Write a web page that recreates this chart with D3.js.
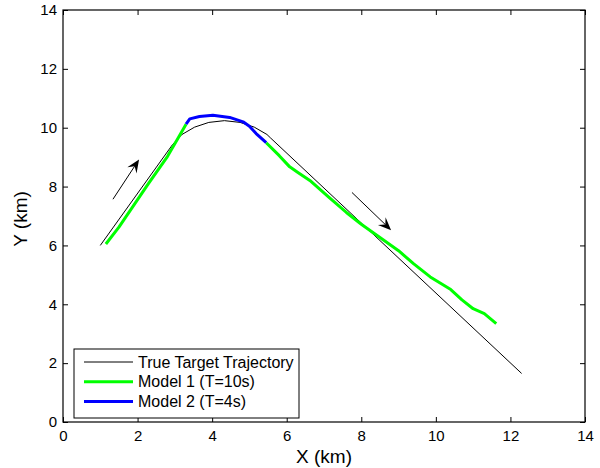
<!DOCTYPE html>
<html>
<head>
<meta charset="utf-8">
<script src="https://cdn.jsdelivr.net/npm/d3@7"></script>
<style>
  body { margin: 0; background: #fff; }
  svg { display: block; font-family: "Liberation Sans", Arial, sans-serif; }
</style>
</head>
<body>
<svg id="chart" width="600" height="468"></svg>
<script>
// data (km)
const trueTrack = [
  [1.0, 6.0], [2.94, 9.43], [3.19, 9.77], [3.53, 10.02], [3.91, 10.18],
  [4.33, 10.24], [4.75, 10.18], [5.13, 10.02], [5.47, 9.77], [5.56, 9.66],
  [12.3, 1.65]
];
const model1a = [
  [1.15, 6.05], [1.5, 6.62], [1.8, 7.18], [2.3, 8.12], [2.8, 9.02],
  [3.1, 9.68], [3.3, 10.12]
];
const model2 = [
  [3.3, 10.12], [3.4, 10.3], [3.66, 10.38], [4.02, 10.42], [4.47, 10.35],
  [4.83, 10.2], [5.0, 10.05], [5.18, 9.8], [5.45, 9.49]
];
const model1b = [
  [5.45, 9.49], [5.8, 9.05], [6.08, 8.67], [6.3, 8.48], [6.65, 8.18],
  [7.15, 7.62], [7.6, 7.12], [8.0, 6.72], [8.5, 6.27], [9.0, 5.82],
  [9.4, 5.38], [9.85, 4.93], [10.4, 4.5], [10.7, 4.15], [11.0, 3.85],
  [11.3, 3.68], [11.62, 3.34]
];
const arrows = [
  { from: [1.34, 7.57], to: [2.04, 8.92] },
  { from: [7.75, 7.8], to: [8.8, 6.52] }
];
const xTicks = [0, 2, 4, 6, 8, 10, 12, 14];
const yTicks = [0, 2, 4, 6, 8, 10, 12, 14];
const legendItems = [
  { label: 'True Target Trajectory', color: '#000', width: 1 },
  { label: 'Model 1 (T=10s)', color: '#00ff00', width: 3 },
  { label: 'Model 2 (T=4s)', color: '#0000ff', width: 3 }
];

const svg = d3.select('#chart');
const margin = { top: 10, right: 15, bottom: 46, left: 63 };
const width = 600 - margin.left - margin.right;
const height = 468 - margin.top - margin.bottom;
const g = svg.append('g').attr('transform', `translate(${margin.left},${margin.top})`);

const x = d3.scaleLinear().domain([0, 14]).range([0, width]);
const y = d3.scaleLinear().domain([0, 14]).range([height, 0]);

// axes, ticks inward
const styleAxis = sel => {
  sel.select('.domain').remove();
  sel.selectAll('.tick line').attr('stroke', '#000');
  sel.selectAll('text').attr('font-size', 15).attr('fill', '#000')
    .attr('font-family', '"Liberation Sans", Arial, sans-serif');
};
g.append('g').attr('transform', `translate(0,${height})`)
  .call(d3.axisBottom(x).tickValues(xTicks).tickSize(-5).tickPadding(8))
  .call(styleAxis);
g.append('g')
  .call(d3.axisLeft(y).tickValues(yTicks).tickSize(-5).tickPadding(6))
  .call(styleAxis);
g.append('g')
  .call(d3.axisTop(x).tickValues(xTicks).tickSize(-5).tickFormat(''))
  .call(styleAxis);
g.append('g').attr('transform', `translate(${width},0)`)
  .call(d3.axisRight(y).tickValues(yTicks).tickSize(-5).tickFormat(''))
  .call(styleAxis);

g.append('rect')
  .attr('width', width).attr('height', height)
  .attr('fill', 'none').attr('stroke', '#000').attr('stroke-width', 1.2);

// lines
const line = d3.line().x(d => x(d[0])).y(d => y(d[1]));
g.append('path').datum(trueTrack).attr('d', line)
  .attr('fill', 'none').attr('stroke', '#000').attr('stroke-width', 1);
[model1a, model1b].forEach(s => {
  g.append('path').datum(s).attr('d', line)
    .attr('fill', 'none').attr('stroke', '#00ff00').attr('stroke-width', 3)
    .attr('stroke-linejoin', 'round');
});
g.append('path').datum(model2).attr('d', line)
  .attr('fill', 'none').attr('stroke', '#0000ff').attr('stroke-width', 3)
  .attr('stroke-linejoin', 'round');

// arrows
arrows.forEach(a => {
  const x0 = x(a.from[0]), y0 = y(a.from[1]);
  const x1 = x(a.to[0]), y1 = y(a.to[1]);
  const ang = Math.atan2(y1 - y0, x1 - x0);
  const len = 13, half = 5.5, notch = 8;
  const ux = Math.cos(ang), uy = Math.sin(ang);
  const px = -uy, py = ux;
  g.append('line')
    .attr('x1', x0).attr('y1', y0)
    .attr('x2', x1 - ux * notch).attr('y2', y1 - uy * notch)
    .attr('stroke', '#000').attr('stroke-width', 1);
  const pts = [
    [x1, y1],
    [x1 - ux * len + px * half, y1 - uy * len + py * half],
    [x1 - ux * notch, y1 - uy * notch],
    [x1 - ux * len - px * half, y1 - uy * len - py * half]
  ];
  g.append('path').attr('d', 'M' + pts.join('L') + 'Z').attr('fill', '#000');
});

// legend
const lg = g.append('g').attr('transform', 'translate(11,339)');
lg.append('rect').attr('width', 225).attr('height', 69)
  .attr('fill', '#fff').attr('stroke', '#000').attr('stroke-width', 1);
legendItems.forEach((d, i) => {
  const ly = 13 + i * 19.7;
  lg.append('line').attr('x1', 10).attr('x2', 59).attr('y1', ly).attr('y2', ly)
    .attr('stroke', d.color).attr('stroke-width', d.width);
  lg.append('text').attr('x', 64).attr('y', ly + 5.5)
    .attr('font-size', 16).text(d.label);
});

// axis titles
svg.append('text')
  .attr('x', margin.left + width / 2).attr('y', 463)
  .attr('text-anchor', 'middle').attr('font-size', 19).text('X (km)');
svg.append('text')
  .attr('transform', `translate(27,219) rotate(-90)`)
  .attr('text-anchor', 'middle').attr('font-size', 19).text('Y (km)');
</script>
</body>
</html>
